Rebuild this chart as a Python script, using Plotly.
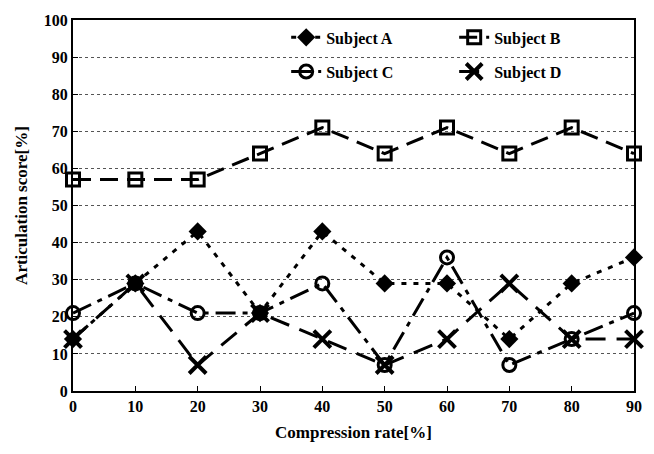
import plotly.graph_objects as go

rates = [0, 10, 20, 30, 40, 50, 60, 70, 80, 90]
subject_a = [14, 29, 43, 21, 43, 29, 29, 14, 29, 36]
subject_b = [57, 57, 57, 64, 71, 64, 71, 64, 71, 64]
subject_c = [21, 29, 21, 21, 29, 7, 36, 7, 14, 21]
subject_d = [14, 29, 7, 21, 14, 7, 14, 29, 14, 14]
y_ticks = [0, 10, 20, 30, 40, 50, 60, 70, 80, 90, 100]

font_family = "Liberation Serif"

fig = go.Figure()
series = [
    ("Subject A", subject_a, "5px,7px", dict(symbol="diamond", size=14, color="black"), "legend"),
    ("Subject B", subject_b, "18px,9px", dict(symbol="square-open", size=13, color="black", line=dict(width=3, color="black")), "legend"),
    ("Subject C", subject_c, "20px,7px,5px,7px", dict(symbol="circle-open", size=13, color="black", line=dict(width=3, color="black")), "legend2"),
    ("Subject D", subject_d, "20px,11px", dict(symbol="x-thin-open", size=17, color="black", line=dict(width=4, color="black")), "legend2"),
]
for name, vals, dash, marker, leg in series:
    fig.add_trace(go.Scatter(
        x=rates, y=vals, name=name, mode="lines+markers",
        line=dict(color="black", width=3, dash=dash),
        marker=marker, cliponaxis=False, legend=leg,
    ))

legend_common = dict(
    orientation="h", xanchor="left", yanchor="middle",
    entrywidth=123, entrywidthmode="pixels",
    font=dict(family=font_family, size=16, color="black", weight="bold"),
    bgcolor="rgba(255,255,255,0)",
)

fig.update_layout(
    width=654, height=454,
    margin=dict(l=73, r=18, t=15, b=63),
    plot_bgcolor="white", paper_bgcolor="white",
    font=dict(family=font_family, color="black", size=15),
    showlegend=True,
    legend=dict(x=0.38, y=0.953, **legend_common),
    legend2=dict(x=0.38, y=0.861, **legend_common),
)
fig.update_xaxes(
    range=[0, 90], tickvals=rates, ticks="inside", ticklen=5, tickcolor="black",
    showline=True, linecolor="black", linewidth=2, mirror=True, showgrid=False, zeroline=False,
    tickfont=dict(family=font_family, size=16, color="black", weight="bold"),
    title=dict(text="Compression rate[%]", font=dict(family=font_family, size=17, weight="bold"), standoff=12),
)
fig.update_yaxes(
    range=[0, 100], tickvals=y_ticks, ticks="inside", ticklen=5, tickcolor="black",
    showline=True, linecolor="black", linewidth=2, mirror=True,
    showgrid=True, gridcolor="#555", griddash="dot", gridwidth=1, zeroline=False,
    tickfont=dict(family=font_family, size=16, color="black", weight="bold"),
    title=dict(text="Articulation score[%]", font=dict(family=font_family, size=17, weight="bold"), standoff=12),
)

fig.write_html("out.html", config={"displayModeBar": False},
               post_script="document.body.style.margin='0';")
